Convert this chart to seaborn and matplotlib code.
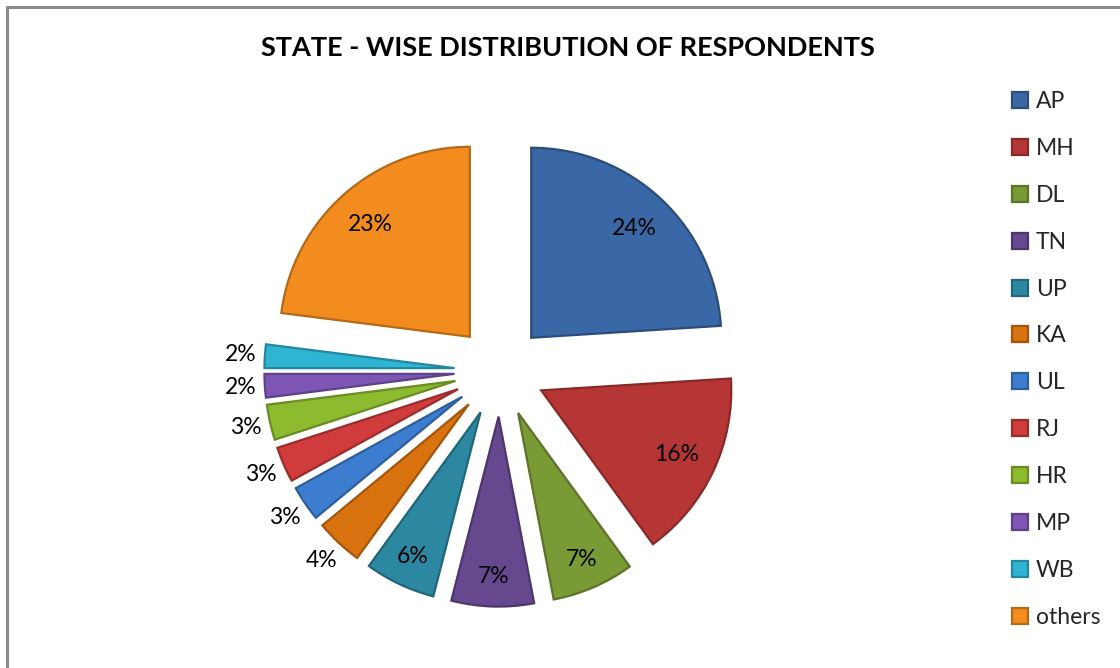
import numpy as np
import matplotlib
matplotlib.use("Agg")
import matplotlib.pyplot as plt
import seaborn as sns
from matplotlib.lines import Line2D

sns.set_theme(style="white")
plt.rcParams['font.family'] = ['Lato', 'DejaVu Sans']

# data
states = ['AP', 'MH', 'DL', 'TN', 'UP', 'KA', 'UL', 'RJ', 'HR', 'MP', 'WB', 'others']
shares = [24, 16, 7, 7, 6, 4, 3, 3, 3, 2, 2, 23]
colors = ['#3A67A5', '#B53634', '#7A9A36', '#66488E', '#2C88A0', '#D9730F',
          '#3D7DD0', '#D03B3B', '#8DBB2F', '#7D56B5', '#2FB4D4', '#F28C1E']
title = 'STATE - WISE DISTRIBUTION OF RESPONDENTS'


def darker(c, f=0.7):
    r, g, b = matplotlib.colors.to_rgb(c)
    return (r * f, g * f, b * f)


W, H = 1120, 668
fig = plt.figure(figsize=(W / 100, H / 100), dpi=100)
fig.patch.set_facecolor('white')
ax = fig.add_axes([0, 0, 1, 1])

wedges, _ = ax.pie(shares, colors=colors, startangle=90, counterclock=False,
                   explode=[0.24] * len(shares), radius=1.0,
                   wedgeprops=dict(linewidth=1.6))
for w, c in zip(wedges, colors):
    w.set_edgecolor(darker(c, 0.75))

# percentage labels: inside for big slices, outside for small ones
for w, v in zip(wedges, shares):
    ang = np.deg2rad((w.theta1 + w.theta2) / 2)
    cx, cy = w.center
    if v >= 10:
        d = 0.79
    elif v >= 5:
        d = 0.84
    else:
        d = 1.13
    ax.text(cx + d * np.cos(ang), cy + d * np.sin(ang), f'{v}%',
            ha='center', va='center', fontsize=16.5, color='black')

# map data units to pixels: centre at (500, 371), radius 190 px
scale, px, py = 190.0, 500.0, 371.0
ax.set_xlim(-px / scale, (W - px) / scale)
ax.set_ylim(-(H - py) / scale, py / scale)
ax.set_aspect('auto')
ax.axis('off')

fig.text(568 / W, 1 - 48 / H, title, ha='center', va='center',
         fontsize=19.5, fontweight='bold', color='black')

leg = fig.legend(wedges, states, loc='upper left',
                 bbox_to_anchor=(1012 / W, 1 - 91 / H), frameon=False,
                 fontsize=16.5, handlelength=0.7, handleheight=0.7,
                 handletextpad=0.35, labelspacing=1.13, borderpad=0,
                 borderaxespad=0)

# chart frame (only left and top edges visible)
fig.add_artist(Line2D([7 / W, 7 / W], [0, 1 - 7 / H], transform=fig.transFigure,
                      color='#8c8c8c', linewidth=2.2))
fig.add_artist(Line2D([7 / W, 1], [1 - 7 / H, 1 - 7 / H], transform=fig.transFigure,
                      color='#8c8c8c', linewidth=2.2))

fig.savefig('out.png', dpi=100, facecolor='white')
